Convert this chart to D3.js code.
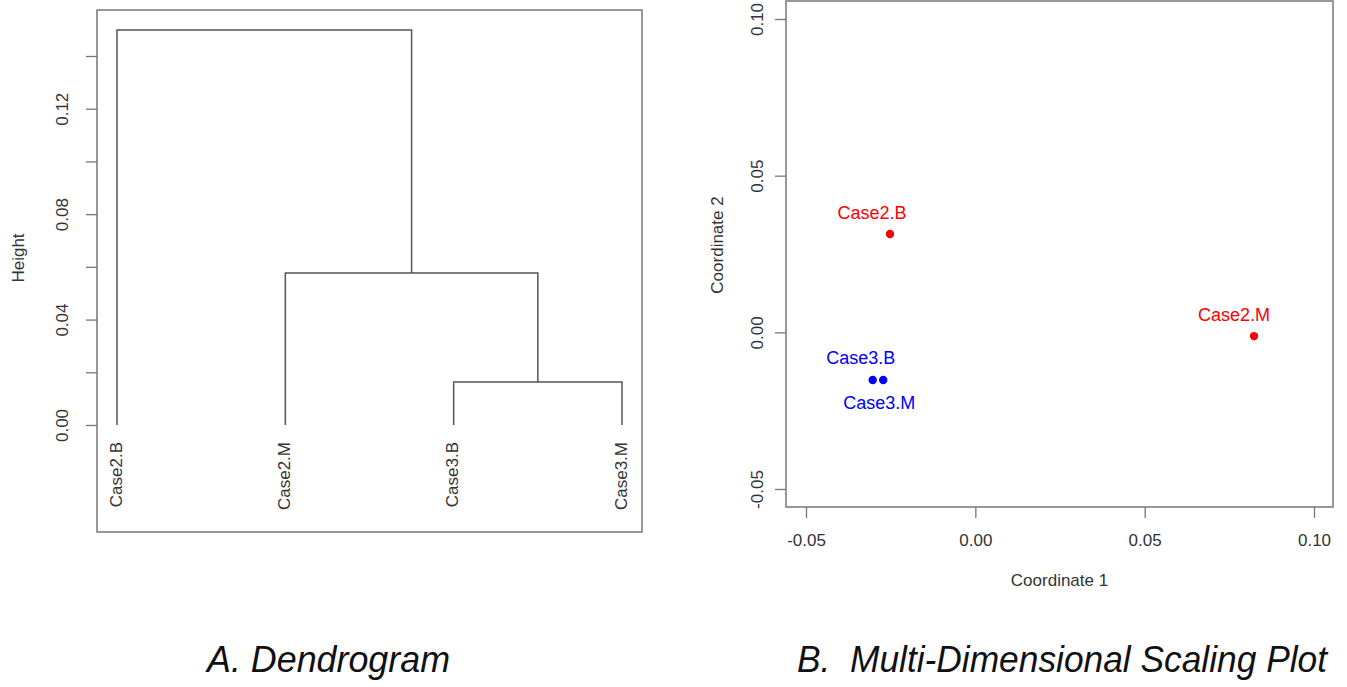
<!DOCTYPE html>
<html>
<head>
<meta charset="utf-8">
<script src="https://cdn.jsdelivr.net/npm/d3@7"></script>
<style>
  html, body { margin: 0; padding: 0; background: #fff; }
  svg { display: block; }
  text { font-family: "Liberation Sans", Arial, sans-serif; }
</style>
</head>
<body>
<svg id="chart" width="1347" height="687"></svg>
<script>
// ---------- DATA ----------
// Dendrogram (hclust-style)
const leafLabels = ["Case2.B", "Case2.M", "Case3.B", "Case3.M"];
const leafOrder = [1, 2, 3, 4];              // order of leaves along x
const mergeLeft = [-3, -2, -1];              // negative = leaf, positive = earlier merge
const mergeRight = [-4, 1, 2];
const mergeHeights = [0.0163, 0.0577, 0.1499];
const dendroTicks = [0, 0.02, 0.04, 0.06, 0.08, 0.10, 0.12, 0.14];
const dendroTickLabels = ["0.00", "", "0.04", "", "0.08", "", "0.12", ""];

// MDS
const mdsNames = ["Case2.B", "Case2.M", "Case3.B", "Case3.M"];
const mdsCoord1 = [-0.0252, 0.0823, -0.0303, -0.0272];
const mdsCoord2 = [0.0314, -0.0012, -0.0152, -0.0152];
const mdsGroup = ["Case2", "Case2", "Case3", "Case3"];
const mdsXTicks = [-0.05, 0.00, 0.05, 0.10];
const mdsYTicks = [-0.05, 0.00, 0.05, 0.10];
const mdsTickLabels = ["-0.05", "0.00", "0.05", "0.10"];

const captions = ["A. Dendrogram", "B.  Multi-Dimensional Scaling Plot"];

// ---------- STYLE ----------
const lineCol = "#555";
const boxCol = "#777";
const textCol = "#333";
const groupColor = { Case2: "#ff0000", Case3: "#0000ff" };
const labelOffset = { "Case2.B": [-18, -21], "Case2.M": [-20, -21], "Case3.B": [-12, -22], "Case3.M": [-4, 23] };
const tickFont = 17, labFont = 17;

const svg = d3.select("#chart");
svg.append("rect").attr("width", 1347).attr("height", 687).attr("fill", "#fff");

// ================= DENDROGRAM =================
const dBox = { l: 97, r: 642, t: 10, b: 532 };
const dx = d3.scaleLinear().domain([1, 4]).range([117, 622]);
const dy = d3.scaleLinear().domain([0, 0.14]).range([425, 56]);

const gD = svg.append("g");
gD.append("rect").attr("x", dBox.l).attr("y", dBox.t)
  .attr("width", dBox.r - dBox.l).attr("height", dBox.b - dBox.t)
  .attr("fill", "none").attr("stroke", boxCol).attr("stroke-width", 1.5);

// axis
const yAxisD = d3.axisLeft(dy).tickValues(dendroTicks).tickSize(11)
  .tickFormat((d, i) => dendroTickLabels[i]);
const ax = gD.append("g").attr("transform", `translate(${dBox.l},0)`).call(yAxisD);
ax.select(".domain").remove();
ax.selectAll(".tick line").attr("stroke", boxCol).attr("stroke-width", 1.3);
ax.selectAll(".tick text").attr("fill", textCol).attr("font-size", tickFont)
  .attr("text-anchor", "middle").attr("x", null).attr("dy", null)
  .attr("dominant-baseline", "central")
  .attr("transform", "translate(-35,0) rotate(-90)");

gD.append("text").attr("transform", "translate(18,258) rotate(-90)")
  .attr("text-anchor", "middle").attr("dominant-baseline", "central")
  .attr("font-size", labFont).attr("fill", textCol).text("Height");

// build node positions
const merged = [];
function nodePos(id) {
  if (id < 0) {
    const leaf = -id;
    return { x: dx(leafOrder.indexOf(leaf) + 1), h: 0 };
  }
  return merged[id - 1];
}
const treeG = gD.append("g").attr("fill", "none").attr("stroke", lineCol).attr("stroke-width", 1.5);
for (let i = 0; i < mergeHeights.length; i++) {
  const a = nodePos(mergeLeft[i]), b = nodePos(mergeRight[i]);
  const h = mergeHeights[i];
  treeG.append("path").attr("d",
    `M${a.x},${dy(a.h)}V${dy(h)}H${b.x}V${dy(b.h)}`);
  merged.push({ x: (a.x + b.x) / 2, h: h });
}
// leaf labels
leafOrder.forEach((leaf, i) => {
  gD.append("text")
    .attr("transform", `translate(${dx(i + 1) - 1},442) rotate(-90)`)
    .attr("text-anchor", "end").attr("dominant-baseline", "central")
    .attr("font-size", tickFont).attr("fill", textCol).text(leafLabels[leaf - 1]);
});

// ================= MDS =================
const mBox = { l: 786, r: 1333, t: 1, b: 507 };
const mx = d3.scaleLinear().domain([-0.05, 0.10]).range([806, 1314]);
const my = d3.scaleLinear().domain([-0.05, 0.10]).range([489, 19]);

const gM = svg.append("g");
gM.append("rect").attr("x", mBox.l).attr("y", mBox.t)
  .attr("width", mBox.r - mBox.l).attr("height", mBox.b - mBox.t)
  .attr("fill", "none").attr("stroke", boxCol).attr("stroke-width", 1.5);

const xa = gM.append("g").attr("transform", `translate(0,${mBox.b})`)
  .call(d3.axisBottom(mx).tickValues(mdsXTicks).tickSize(11).tickFormat((d, i) => mdsTickLabels[i]));
xa.select(".domain").remove();
xa.selectAll(".tick line").attr("stroke", boxCol).attr("stroke-width", 1.3);
xa.selectAll(".tick text").attr("fill", textCol).attr("font-size", tickFont)
  .attr("y", 33).attr("dy", null).attr("dominant-baseline", "central");

const ya = gM.append("g").attr("transform", `translate(${mBox.l},0)`)
  .call(d3.axisLeft(my).tickValues(mdsYTicks).tickSize(11).tickFormat((d, i) => mdsTickLabels[i]));
ya.select(".domain").remove();
ya.selectAll(".tick line").attr("stroke", boxCol).attr("stroke-width", 1.3);
ya.selectAll(".tick text").attr("fill", textCol).attr("font-size", tickFont)
  .attr("text-anchor", "middle").attr("x", null).attr("dy", null)
  .attr("dominant-baseline", "central")
  .attr("transform", "translate(-29,0) rotate(-90)");

gM.append("text").attr("x", (mBox.l + mBox.r) / 2).attr("y", 580)
  .attr("text-anchor", "middle").attr("dominant-baseline", "central")
  .attr("font-size", labFont).attr("fill", textCol).text("Coordinate 1");
gM.append("text").attr("transform", "translate(717,245) rotate(-90)")
  .attr("text-anchor", "middle").attr("dominant-baseline", "central")
  .attr("font-size", labFont).attr("fill", textCol).text("Coordinate 2");

mdsNames.forEach((n, i) => {
  const px = mx(mdsCoord1[i]), py = my(mdsCoord2[i]);
  const col = groupColor[mdsGroup[i]];
  gM.append("circle").attr("cx", px).attr("cy", py).attr("r", 4.2).attr("fill", col);
  const off = labelOffset[n];
  gM.append("text").attr("x", px + off[0]).attr("y", py + off[1])
    .attr("text-anchor", "middle").attr("dominant-baseline", "central")
    .attr("font-size", 18).attr("fill", col).text(n);
});

// ================= CAPTIONS =================
const capG = svg.append("g").attr("font-family", "'Open Sans', sans-serif")
  .attr("font-style", "italic").attr("font-size", 36).attr("fill", "#111");
capG.append("text").attr("x", 207).attr("y", 672)
  .attr("textLength", 243).attr("lengthAdjust", "spacingAndGlyphs").text(captions[0]);
capG.append("text").attr("x", 797).attr("y", 672).attr("xml:space", "preserve")
  .attr("textLength", 530).attr("lengthAdjust", "spacingAndGlyphs").text(captions[1]);
</script>
</body>
</html>
